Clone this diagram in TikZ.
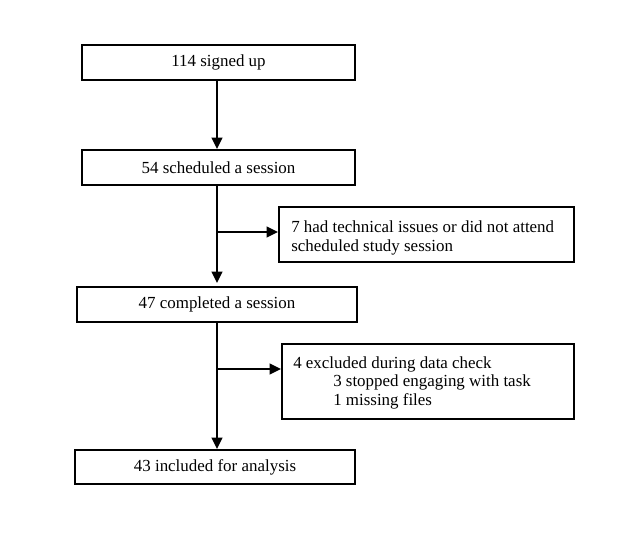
\documentclass[tikz,border=0pt]{standalone}
\usepackage{fontspec}
\setmainfont{Liberation Serif}
\usetikzlibrary{arrows.meta}
\begin{document}
\begin{tikzpicture}[x=0.75pt,y=-0.75pt,
  every node/.style={font=\fontsize{12.7}{13.7}\selectfont},
  box/.style={draw,line width=1.5pt,inner sep=0pt},
  sidetext/.style={inner sep=0pt,align=left,anchor=base west},
  arr/.style={line width=1.5pt,-{Triangle[length=8.5pt,width=8pt]}},
  plain/.style={line width=1.5pt}]
\useasboundingbox (0,0) rectangle (642,558);
% main boxes
\node[box,minimum width=204.75pt,minimum height=26.25pt] (b1) at (218.5,62.5) {114 signed up};
\node[box,minimum width=204.75pt,minimum height=26.25pt] (b2) at (218.5,167.5) {54 scheduled a session};
\node[box,minimum width=210pt,minimum height=26.25pt] (b3) at (217,304.5) {47 completed a session};
\node[box,minimum width=210pt,minimum height=25.5pt] (b4) at (215,467) {43 included for analysis};
% side boxes
\node[box,minimum width=221.25pt,minimum height=41.25pt] (s1) at (426.5,234.5) {};
\node[sidetext] (s1t) at (291,251) {7 had technical issues or did not attend\\scheduled study session};
\node[box,minimum width=219pt,minimum height=56.25pt] (s2) at (428,381.5) {};
\node[sidetext] (s2t) at (293,405) {4 excluded during data check\\\hspace*{30pt}3 stopped engaging with task\\\hspace*{30pt}1 missing files};
% spine
\coordinate (spine) at (217,0);
\coordinate (j1) at (217,232);
\coordinate (j2) at (217,369);
\draw[arr] (b1.south -| spine) -- (b2.north -| spine);
\draw[arr] (b2.south -| spine) -- ([yshift=2.25pt]b3.north -| spine);
\draw[arr] (b3.south -| spine) -- (b4.north -| spine);
\draw[arr] (j1) -- (s1.west |- j1);
\draw[arr] (j2) -- (s2.west |- j2);
\end{tikzpicture}
\end{document}
